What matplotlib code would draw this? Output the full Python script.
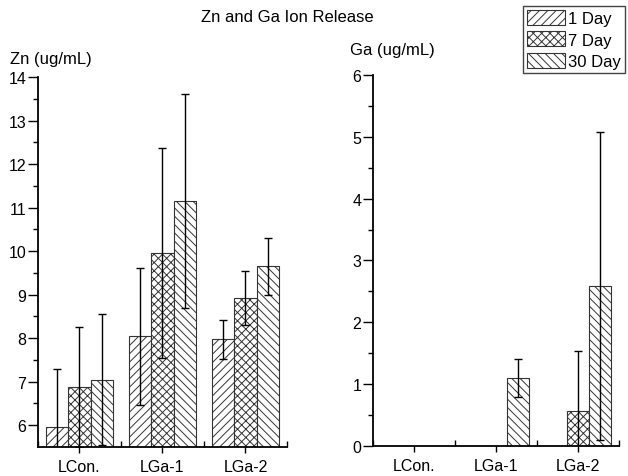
import numpy as np
import matplotlib
matplotlib.use("Agg")
import matplotlib.pyplot as plt

plt.rcParams["font.family"] = ["Liberation Sans", "DejaVu Sans"]
plt.rcParams["hatch.linewidth"] = 0.7
plt.rcParams["hatch.color"] = "#333333"

# data
groups = ["LCon.", "LGa-1", "LGa-2"]
days = ["1 Day", "7 Day", "30 Day"]
hatches = ["////", "xxxx", "\\\\\\\\"]

zn_mean = [[5.97, 8.04, 7.97],
           [6.88, 9.96, 8.92],
           [7.05, 11.16, 9.65]]
zn_err = [[1.33, 1.57, 0.44],
          [1.37, 2.41, 0.62],
          [1.50, 2.46, 0.66]]

ga_mean = [[0.0, 0.0, 0.0],
           [0.0, 0.0, 0.56],
           [0.0, 1.10, 2.58]]
ga_err = [[0.0, 0.0, 0.0],
          [0.0, 0.0, 0.98],
          [0.0, 0.30, 2.49]]

fig = plt.figure(figsize=(6.28, 4.77), dpi=100)
ax1 = fig.add_axes([0.0605, 0.0608, 0.3965, 0.7757])
ax2 = fig.add_axes([0.594, 0.0629, 0.3917, 0.7778])

x = np.arange(1, len(groups) + 1)
w = 0.267


def draw_panel(ax, means, errs, ylim, yticks):
    handles = []
    for i in range(len(days)):
        pos = x + (i - 1) * w
        vals = np.array(means[i], dtype=float)
        err = np.array(errs[i], dtype=float)
        b = ax.bar(pos, vals, width=w, color="white", edgecolor="#333333",
                   linewidth=0.8, hatch=hatches[i], label=days[i], zorder=2)
        handles.append(b)
        # no error bar where nothing was measured
        shown = np.where(vals > 0, vals, np.nan)
        ax.errorbar(pos, shown, yerr=err, fmt="none", ecolor="black",
                    elinewidth=1.0, capsize=3.2, capthick=1.0, zorder=3)
    ax.set_xlim(0.5, 3.5)
    ax.set_ylim(*ylim)
    ax.set_xticks(x)
    ax.set_xticklabels(groups, fontsize=11.5)
    ax.set_xticks([0.5, 1.5, 2.5, 3.5], minor=True)
    ax.set_yticks(yticks)
    ax.set_yticks(np.arange(yticks[0], yticks[-1] + 0.01, 0.5), minor=True)
    ax.tick_params(axis="y", which="major", direction="out", length=7,
                   width=1.0, labelsize=11.5, pad=1.5)
    ax.tick_params(axis="y", which="minor", direction="out", length=3.5, width=1.0)
    ax.tick_params(axis="x", which="major", direction="out", length=4,
                   width=1.0, pad=5)
    ax.tick_params(axis="x", which="minor", direction="in", length=4, width=1.0)
    for s in ["top", "right"]:
        ax.spines[s].set_visible(False)
    for s in ["left", "bottom"]:
        ax.spines[s].set_linewidth(1.3)
    return handles


handles = draw_panel(ax1, zn_mean, zn_err, (5.5, 14), np.arange(6, 15, 1))
draw_panel(ax2, ga_mean, ga_err, (0, 6), np.arange(0, 7, 1))

ax1.text(-0.112, 1.051, "Zn (ug/mL)", transform=ax1.transAxes,
         ha="left", va="center", fontsize=12)
ax2.text(-0.093, 1.07, "Ga (ug/mL)", transform=ax2.transAxes,
         ha="left", va="center", fontsize=12)

fig.text(0.458, 0.964, "Zn and Ga Ion Release", ha="center", va="center",
         fontsize=12)

leg = fig.legend(handles=handles, loc="upper right",
                 bbox_to_anchor=(0.996, 0.985), fontsize=12,
                 handlelength=2.3, handleheight=1.0, handletextpad=0.2,
                 labelspacing=0.3, borderpad=0.25, borderaxespad=0.0,
                 fancybox=False, framealpha=1)
leg.get_frame().set_edgecolor("#444444")
leg.get_frame().set_linewidth(1.0)

fig.savefig("out.png", dpi=100)
